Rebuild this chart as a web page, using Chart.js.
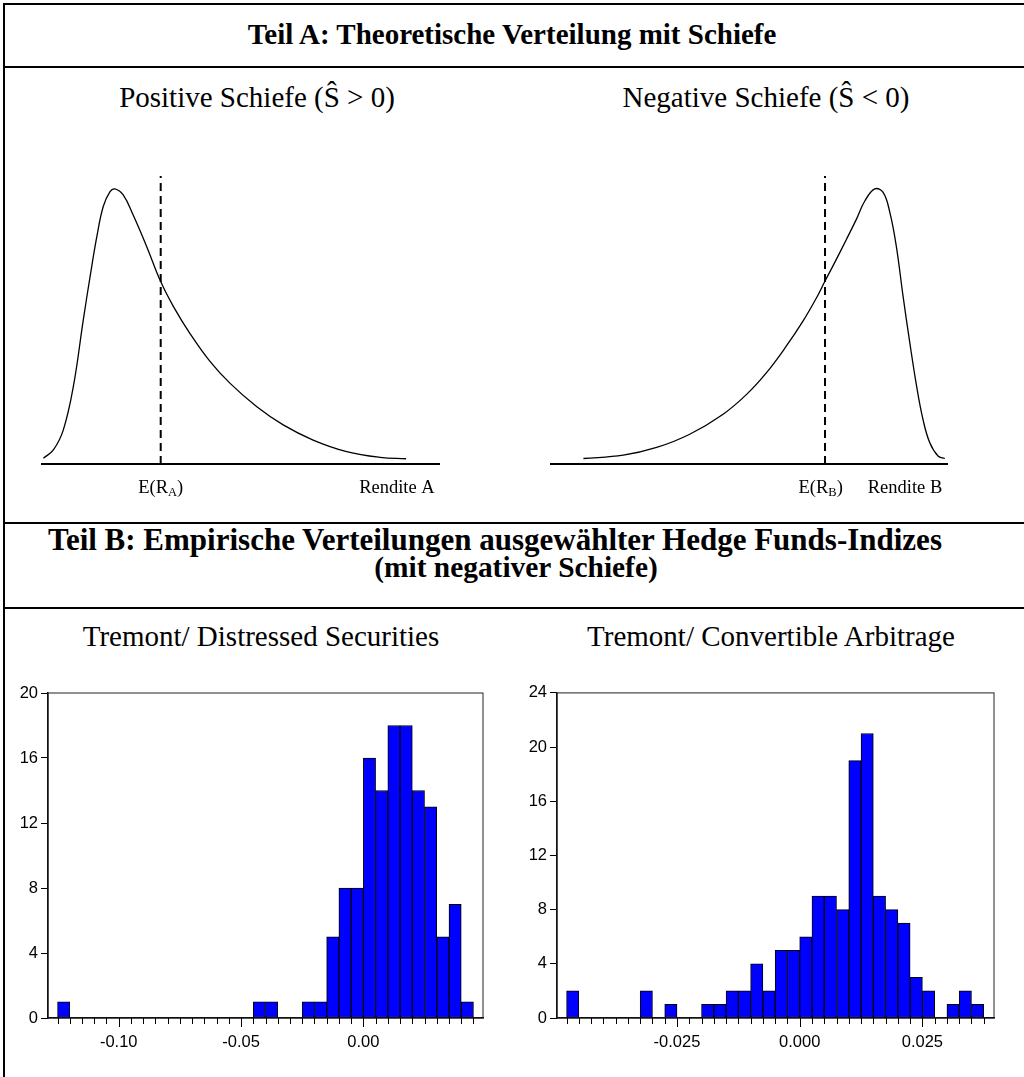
<!DOCTYPE html>
<html lang="de">
<head>
<meta charset="utf-8">
<script src="https://cdn.jsdelivr.net/npm/chart.js@4.4.1/dist/chart.umd.min.js"></script>
<style>
  body { margin: 0; background: #fff; }
  #page { position: relative; width: 1024px; height: 1077px; overflow: hidden; color: #000;
          font-family: "Liberation Serif", "Times New Roman", serif; }
  .hrule { position: absolute; left: 3px; right: 0; height: 2px; background: #000; }
  .vrule { position: absolute; left: 3px; top: 3px; bottom: 0; width: 2px; background: #000; }
  .txt { position: absolute; white-space: nowrap; line-height: 1; text-align: center; }
  .bold { font-weight: bold; }
  .box { position: absolute; }
</style>
</head>
<body>
<div id="page">
  <div class="vrule"></div>
  <div class="hrule" style="top:3px"></div>
  <div class="hrule" style="top:66px"></div>
  <div class="hrule" style="top:522px"></div>
  <div class="hrule" style="top:607px"></div>

  <div class="txt bold" style="left:12px; width:1000px; top:20px; font-size:29px">Teil A: Theoretische Verteilung mit Schiefe</div>
  <div class="txt" style="left:57px; width:400px; top:83px; font-size:29px">Positive Schiefe (Ŝ &gt; 0)</div>
  <div class="txt" style="left:566px; width:400px; top:83px; font-size:29px">Negative Schiefe (Ŝ &lt; 0)</div>

  <div class="txt bold" style="left:-5px; width:1000px; top:524px; font-size:31px">Teil B: Empirische Verteilungen ausgewählter Hedge Funds-Indizes</div>
  <div class="txt bold" style="left:16px; width:1000px; top:553px; font-size:29.4px">(mit negativer Schiefe)</div>
  <div class="txt" style="left:61px; width:400px; top:622px; font-size:29px">Tremont/ Distressed Securities</div>
  <div class="txt" style="left:571px; width:400px; top:622px; font-size:29px">Tremont/ Convertible Arbitrage</div>

  <div class="box" style="left:41px; top:160px; width:399px; height:344px"><canvas id="curveA"></canvas></div>
  <div class="box" style="left:550px; top:160px; width:398px; height:344px"><canvas id="curveB"></canvas></div>
  <div class="box" style="left:6px; top:680px; width:494px; height:397px"><canvas id="histDS"></canvas></div>
  <div class="box" style="left:512px; top:680px; width:500px; height:397px"><canvas id="histCA"></canvas></div>
</div>

<script>
// Teil A: Dichtekurven (x: Rendite 0..100, y: Dichte in % des Maximums)
const posX = [0.6, 3.1, 5.6, 8.1, 10.6, 12.3, 14.0, 15.6, 17.3, 18.5, 20.6, 23.1, 26.5, 30.0, 33.2, 37.3, 42.4, 47.4, 54.1, 60.7, 68.2, 76.6, 85.0, 91.5];
const posY = [2.1, 5.1, 12.4, 28.1, 52.4, 68.1, 82.7, 93.6, 99.0, 100, 97.8, 90.5, 79.0, 66.3, 57.2, 47.5, 37.2, 29.3, 20.8, 14.2, 8.7, 4.5, 2.4, 1.9];
const posMean = 30.0;

const negX = [8.4, 18.4, 26.8, 35.1, 43.5, 49.4, 54.4, 59.4, 63.6, 67.0, 69.1, 71.1, 74.5, 77.0, 79.1, 81.6, 83.7, 85.4, 87.0, 88.7, 90.4, 92.1, 93.7, 95.4, 97.5, 99.2];
const negY = [2.0, 3.2, 6.0, 10.8, 18.1, 25.3, 33.2, 42.9, 52.0, 60.5, 66.5, 72.0, 81.7, 89.0, 95.6, 100, 98.7, 91.4, 79.3, 61.1, 44.1, 28.4, 16.3, 7.8, 2.9, 2.0];
const negMean = 69.1;
const negMeanLabel = 68.0;

// Teil B: Histogramme
const dsBinStart = -0.125;
const dsBinWidth = 0.005;
const dsCounts = [1, 0, 0, 0, 0, 0, 0, 0, 0, 0, 0, 0, 0, 0, 0, 0, 1, 1, 0, 0, 1, 1, 5, 8, 8, 16, 14, 18, 18, 14, 13, 5, 7, 1];
const dsTicks = [-0.10, -0.05, 0.00];
const dsYTicks = [0, 4, 8, 12, 16, 20];

const caBinStart = -0.0475;
const caBinWidth = 0.0025;
const caCounts = [2, 0, 0, 0, 0, 0, 2, 0, 1, 0, 0, 1, 1, 2, 2, 4, 2, 5, 5, 6, 9, 9, 8, 19, 21, 9, 8, 7, 3, 2, 0, 1, 2, 1];
const caTicks = [-0.025, 0.000, 0.025];
const caYTicks = [0, 4, 8, 12, 16, 20, 24];

const serif = '"Liberation Serif", "Times New Roman", serif';
const sans = '"Liberation Sans", Arial, sans-serif';

// Beschriftung unter der Kurve: E(R_x) mit Index und "Rendite x"
const curveLabels = {
  id: 'curveLabels',
  afterDraw(chart, args, opts) {
    const { ctx, chartArea } = chart;
    const xs = chart.scales.x;
    const y = chartArea.bottom + 29;
    ctx.save();
    ctx.fillStyle = '#000';
    ctx.textBaseline = 'alphabetic';
    ctx.textAlign = 'left';
    ctx.font = '18.5px ' + serif;
    const wa = ctx.measureText('E(R').width;
    const wc = ctx.measureText(')').width;
    ctx.font = '12.5px ' + serif;
    const wb = ctx.measureText(opts.sub).width;
    let x = xs.getPixelForValue(opts.meanAt) - (wa + wb + wc) / 2;
    ctx.font = '18.5px ' + serif;
    ctx.fillText('E(R', x, y);
    ctx.font = '12.5px ' + serif;
    ctx.fillText(opts.sub, x + wa, y + 3);
    ctx.font = '18.5px ' + serif;
    ctx.fillText(')', x + wa + wb, y);
    ctx.textAlign = 'center';
    ctx.fillText(opts.axisText, xs.getPixelForValue(opts.axisAt), y);
    ctx.restore();
  }
};

function makeCurve(id, xs, ys, mean, meanLabel, sub, axisText) {
  const pts = xs.map((x, i) => ({ x: x, y: ys[i] }));
  new Chart(document.getElementById(id), {
    type: 'line',
    data: {
      datasets: [
        { data: pts, borderColor: '#000', borderWidth: 1.3, pointRadius: 0,
          tension: 0.4, fill: false, clip: false },
        { data: [{ x: mean, y: 0 }, { x: mean, y: 104.7 }], borderColor: '#000', borderWidth: 2,
          borderDash: [8, 5], pointRadius: 0, clip: false },
        { data: [{ x: 0, y: 0 }, { x: 100, y: 0 }], borderColor: '#000', borderWidth: 2,
          pointRadius: 0, clip: false }
      ]
    },
    options: {
      responsive: true, maintainAspectRatio: false, animation: false,
      layout: { padding: { left: 0, right: 0, top: 0, bottom: 40 } },
      scales: {
        x: { type: 'linear', min: 0, max: 100, display: false },
        y: { min: 0, max: 110.5, display: false }
      },
      plugins: {
        legend: { display: false }, tooltip: { enabled: false },
        curveLabels: { sub: sub, meanAt: meanLabel, axisText: axisText, axisAt: 89.2 }
      }
    },
    plugins: [curveLabels]
  });
}

makeCurve('curveA', posX, posY, posMean, posMean, 'A', 'Rendite A');
makeCurve('curveB', negX, negY, negMean, negMeanLabel, 'B', 'Rendite B');

// Rahmen und kleine Teilstriche an jeder Klassengrenze
const histFrame = {
  id: 'histFrame',
  afterDatasetsDraw(chart, args, opts) {
    const { ctx, chartArea: a } = chart;
    const xs = chart.scales.x;
    ctx.save();
    ctx.strokeStyle = '#222';
    ctx.lineWidth = 1;
    ctx.strokeRect(a.left, a.top, a.right - a.left, a.bottom - a.top);
    ctx.strokeStyle = '#000';
    opts.edges.forEach(v => {
      const px = Math.round(xs.getPixelForValue(v)) + 0.5;
      const major = opts.majors.some(m => Math.abs(m - v) < 1e-9);
      ctx.beginPath();
      ctx.moveTo(px, a.bottom);
      ctx.lineTo(px, a.bottom + (major ? 9 : 6));
      ctx.stroke();
    });
    ctx.restore();
  }
};

function makeHist(id, binStart, binWidth, counts, majors, yTicks, xMin, xMax, digits, yWidth, pad) {
  const bars = [];
  counts.forEach((c, i) => {
    if (c > 0) bars.push({ x: binStart + (i + 0.5) * binWidth, y: c });
  });
  const edges = counts.map((c, i) => binStart + i * binWidth).concat([binStart + counts.length * binWidth]);
  new Chart(document.getElementById(id), {
    type: 'bar',
    data: {
      datasets: [{
        data: bars, backgroundColor: '#0000ff', borderColor: '#000', borderWidth: 1,
        borderSkipped: false, barPercentage: 1, categoryPercentage: 1
      }]
    },
    options: {
      responsive: true, maintainAspectRatio: false, animation: false,
      layout: { padding: pad },
      scales: {
        x: {
          type: 'linear', min: xMin, max: xMax, offset: false,
          afterFit(scale) { scale.height = 59; },
          afterBuildTicks(scale) { scale.ticks = majors.map(v => ({ value: v })); },
          grid: { display: false },
          border: { display: true, color: '#000', width: 1.5 },
          ticks: { color: '#000', padding: 7, font: { family: sans, size: 16.5 },
                   maxRotation: 0, callback: v => Number(v).toFixed(digits) }
        },
        y: {
          min: 0, max: yTicks[yTicks.length - 1],
          afterFit(scale) { scale.width = yWidth; },
          afterBuildTicks(scale) { scale.ticks = yTicks.map(v => ({ value: v })); },
          grid: { drawOnChartArea: false, tickLength: 7, color: '#000', lineWidth: 1 },
          border: { display: true, color: '#000', width: 1.5 },
          ticks: { color: '#000', padding: 3, font: { family: sans, size: 16.5 } }
        }
      },
      plugins: {
        legend: { display: false }, tooltip: { enabled: false },
        histFrame: { edges: edges, majors: majors }
      }
    },
    plugins: [histFrame]
  });
}

makeHist('histDS', dsBinStart, dsBinWidth, dsCounts, dsTicks, dsYTicks, -0.1289, 0.0489, 2, 42,
         { left: 0, right: 17, top: 13, bottom: 0 });
makeHist('histCA', caBinStart, caBinWidth, caCounts, caTicks, caYTicks, -0.04945, 0.03959, 3, 45,
         { left: 0, right: 18, top: 12, bottom: 0 });
</script>
</body>
</html>
